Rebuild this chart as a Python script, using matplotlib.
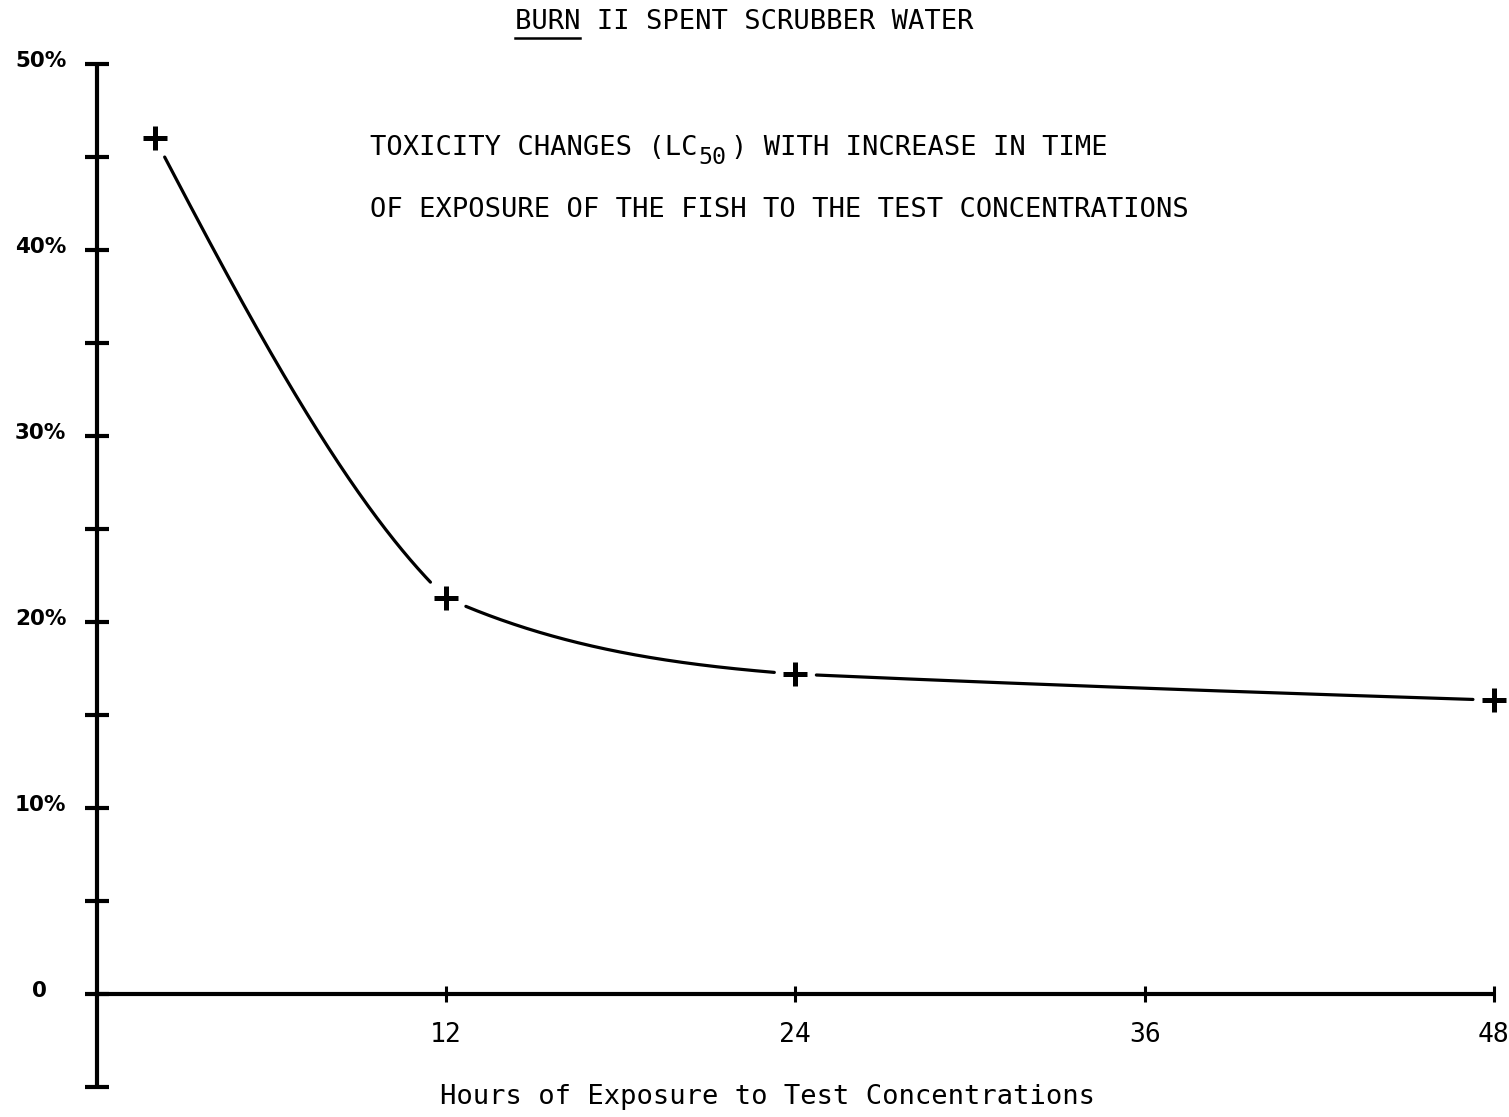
import numpy as np
import matplotlib
matplotlib.use("Agg")
import matplotlib.pyplot as plt
from matplotlib.lines import Line2D

# LC50 readings (percent scrubber water) against exposure time (hours)
hours = [2, 12, 24, 48]
lc50_pct = [46.0, 21.3, 17.2, 15.8]

# tangents (percent per hour) of the hand-faired curve at each end of a segment
slope_leaving = [-3.0, -0.7, -0.07]
slope_arriving = [-1.5, -0.12, -0.05]

x_ticks = [12, 24, 36, 48]
x_tick_labels = ["12", "24", "36", "48"]
y_major = [0, 10, 20, 30, 40, 50]
y_major_labels = ["0", "10%", "20%", "30%", "40%", "50%"]
y_minor = [-5, 5, 15, 25, 35, 45]

title_underlined = "BURN"
title_rest = " II SPENT SCRUBBER WATER"
note_line1_head = "TOXICITY CHANGES (LC"
note_sub = "50"
note_line1_tail = ") WITH INCREASE IN TIME"
note_line2 = "OF EXPOSURE OF THE FISH TO THE TEST CONCENTRATIONS"
x_label = "Hours of Exposure to Test Concentrations"

W, H = 1509, 1117
DPI = 100
MONO = "DejaVu Sans Mono"
SANS = "DejaVu Sans"
INK = "#000000"


def hermite(x0, x1, y0, y1, d0, d1, n=300):
    t = np.linspace(0.0, 1.0, n)
    h = x1 - x0
    h00 = 2 * t**3 - 3 * t**2 + 1
    h10 = t**3 - 2 * t**2 + t
    h01 = -2 * t**3 + 3 * t**2
    h11 = t**3 - t**2
    y = h00 * y0 + h10 * h * d0 + h01 * y1 + h11 * h * d1
    return x0 + t * h, y


fig = plt.figure(figsize=(W / DPI, H / DPI), dpi=DPI)
fig.patch.set_facecolor("white")
ax = fig.add_axes([0, 0, 1, 1])
ax.patch.set_visible(False)

# pixel mapping: 0 h at x=96.7 px, 29.11 px per hour; 0 % at y=994 px, 18.6 px per percent
px_per_h, x0_px = 29.11, 96.7
px_per_pct, y0_px = 18.6, 994.0
ax.set_xlim(-x0_px / px_per_h, (W - x0_px) / px_per_h)
ax.set_ylim(-(H - y0_px) / px_per_pct, y0_px / px_per_pct)

# axes drawn as crossing lines at the origin
for side in ("top", "right"):
    ax.spines[side].set_visible(False)
for side in ("left", "bottom"):
    ax.spines[side].set_position(("data", 0))
    ax.spines[side].set_linewidth(3.0)
    ax.spines[side].set_color(INK)
    ax.spines[side].set_capstyle("butt")
ax.spines["left"].set_bounds(-5, 50)
ax.spines["bottom"].set_bounds(0, 48)

ax.set_yticks(y_major)
ax.set_yticks(y_minor, minor=True)
ax.tick_params(axis="y", which="both", direction="inout", length=17,
               width=3.0, color=INK, labelleft=False)

# percentage labels beside the vertical axis
for v, lab in zip(y_major, y_major_labels):
    dx = -36 if lab == "0" else -22
    ax.annotate(lab, xy=(0, v), xytext=(dx, 2), textcoords="offset points",
                ha="right", va="center", fontfamily=SANS, fontsize=15.5,
                fontweight="bold", color=INK)

ax.set_xticks(x_ticks)
ax.set_xticklabels(x_tick_labels)
ax.tick_params(axis="x", which="major", direction="inout", length=12,
               width=2.2, color=INK, pad=14, labelsize=19)
for lab in ax.get_xticklabels():
    lab.set_fontfamily(MONO)

# smooth curve through the readings
cx, cy = [], []
for i in range(len(hours) - 1):
    sx, sy = hermite(hours[i], hours[i + 1], lc50_pct[i], lc50_pct[i + 1],
                     slope_leaving[i], slope_arriving[i])
    cx.append(sx)
    cy.append(sy)
cx = np.concatenate(cx)
cy = np.concatenate(cy)

# leave a small gap in the curve around every plotted point
curve_px = ax.transData.transform(np.column_stack([cx, cy]))
point_px = ax.transData.transform(np.column_stack([hours, lc50_pct]))
gap = 21.0
mask = np.zeros(len(cx), dtype=bool)
for p in point_px:
    mask |= np.hypot(curve_px[:, 0] - p[0], curve_px[:, 1] - p[1]) < gap
cy_gapped = np.where(mask, np.nan, cy)
ax.plot(cx, cy_gapped, color=INK, lw=2.3, solid_capstyle="round")

ax.plot(hours, lc50_pct, linestyle="none", marker="+", markersize=17,
        markeredgewidth=3.6, color=INK)


def fx(px):
    return px / W


def fy(py):
    return 1 - py / H


# title with underlined first word
fs_mono = 19.5
char_w = 0.6021 * fs_mono * DPI / 72.0
title_left = 515
fig.text(fx(title_left), fy(22), title_underlined + title_rest, fontfamily=MONO,
         fontsize=fs_mono, ha="left", va="center", color=INK)
fig.add_artist(Line2D([fx(title_left), fx(title_left + len(title_underlined) * char_w)],
                      [fy(38), fy(38)], color=INK, lw=1.8,
                      transform=fig.transFigure))

# note text in two lines, with the subscript on LC
note_left = 370
head_chars = len(note_line1_head)
fig.text(fx(note_left), fy(148), note_line1_head, fontfamily=MONO, fontsize=fs_mono,
         ha="left", va="center", color=INK)
fig.text(fx(note_left + head_chars * char_w + 2), fy(157), note_sub, fontfamily=MONO,
         fontsize=fs_mono * 0.86, ha="left", va="center", color=INK)
fig.text(fx(note_left + (head_chars + len(note_sub)) * char_w + 2), fy(148),
         note_line1_tail, fontfamily=MONO, fontsize=fs_mono,
         ha="left", va="center", color=INK)
fig.text(fx(note_left), fy(210), note_line2, fontfamily=MONO, fontsize=fs_mono,
         ha="left", va="center", color=INK)

fig.text(fx(768), fy(1097), x_label, fontfamily=MONO, fontsize=fs_mono,
         ha="center", va="center", color=INK)

fig.savefig("out.png", dpi=DPI, facecolor="white")
